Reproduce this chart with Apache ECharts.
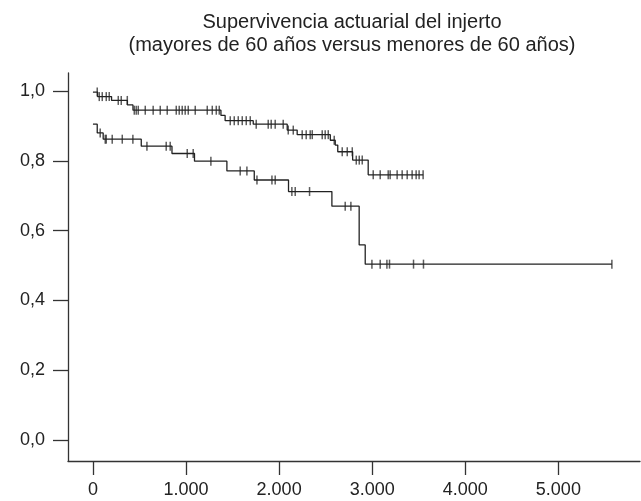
<!DOCTYPE html>
<html><head><meta charset="utf-8">
<script src="https://cdn.jsdelivr.net/npm/echarts@6/dist/echarts.min.js"></script>
<style>html,body{margin:0;padding:0;background:#fff}#c{width:641px;height:501px}</style>
</head><body><div id="c"></div>
<script>
// Upper curve: event times (days) and survival after each event
const upperTimes = [0, 50, 200, 370, 430, 1375, 1420, 1722, 2087, 2194, 2550, 2603, 2630, 2790, 2957, 3548];
const upperSurv  = [0.997, 0.984, 0.973, 0.960, 0.945, 0.930, 0.915, 0.905, 0.888, 0.875, 0.859, 0.845, 0.826, 0.802, 0.760, 0.760];
const upperCensor = [46, 68, 100, 143, 175, 272, 304, 369, 444, 465, 487, 562, 647, 723, 798, 895, 927, 959, 991, 1024, 1099, 1228, 1282, 1325, 1357, 1475, 1518, 1561, 1604, 1647, 1690, 1754, 1883, 1915, 1958, 2044, 2098, 2152, 2248, 2291, 2334, 2356, 2463, 2495, 2528, 2592, 2678, 2732, 2786, 2829, 2861, 2893, 3011, 3086, 3172, 3193, 3268, 3322, 3376, 3429, 3472, 3504, 3547];

// Lower curve
const lowerTimes = [0, 46, 110, 519, 849, 1091, 1439, 1733, 2101, 2567, 2860, 2925, 5575];
const lowerSurv  = [0.905, 0.880, 0.862, 0.842, 0.821, 0.799, 0.771, 0.745, 0.712, 0.670, 0.559, 0.504, 0.504];
const lowerCensor = [78, 132, 143, 207, 315, 429, 580, 787, 830, 1013, 1077, 1267, 1582, 1654, 1762, 1923, 1958, 2137, 2173, 2327, 2710, 2771, 2997, 3086, 3158, 3186, 3444, 3551, 5575];

const xTicks = [0, 1000, 2000, 3000, 4000, 5000];
const yTicks = [0, 0.2, 0.4, 0.6, 0.8, 1.0];
const titleText = 'Supervivencia actuarial del injerto\n(mayores de 60 años versus menores de 60 años)';

function survAt(times, surv, t) {
  let s = surv[0];
  for (let i = 0; i < times.length; i++) { if (times[i] <= t) s = surv[i]; }
  return s;
}
const upperLine = upperTimes.map((t, i) => [t, upperSurv[i]]);
const lowerLine = lowerTimes.map((t, i) => [t, lowerSurv[i]]);
const upperMarks = upperCensor.map(t => [t, survAt(upperTimes, upperSurv, t)]);
const lowerMarks = lowerCensor.map(t => [t, survAt(lowerTimes, lowerSurv, t)]);

const FONT = 'Liberation Sans, Arial, sans-serif';
const chart = echarts.init(document.getElementById('c'), null, {renderer: 'canvas'});
chart.setOption({
  animation: false,
  backgroundColor: '#fff',
  title: {
    text: titleText, left: 347, top: 6, textAlign: 'center',
    textStyle: {fontFamily: FONT, fontSize: 20, fontWeight: 'normal', color: '#222', lineHeight: 23}
  },
  grid: {left: 68, right: 1, top: 73, bottom: 40, containLabel: false},
  xAxis: {
    type: 'value', min: -268, max: 5877,
    splitLine: {show: false},
    axisLine: {show: true, onZero: false, lineStyle: {color: '#333', width: 1.3}},
    axisTick: {show: true, length: 14, customValues: xTicks, lineStyle: {color: '#333', width: 1.3}},
    axisLabel: {customValues: xTicks, margin: 20, fontFamily: FONT, fontSize: 18, color: '#222',
      formatter: v => v === 0 ? '0' : String(v).replace(/\B(?=(\d{3})+(?!\d))/g, '.')}
  },
  yAxis: {
    type: 'value', min: -0.06, max: 1.0516,
    splitLine: {show: false},
    axisLine: {show: true, onZero: false, lineStyle: {color: '#333', width: 1.3}},
    axisTick: {show: true, length: 15, customValues: yTicks, lineStyle: {color: '#333', width: 1.3}},
    axisLabel: {customValues: yTicks, margin: 23, fontFamily: FONT, fontSize: 18, color: '#222',
      formatter: v => v.toFixed(1).replace('.', ',')}
  },
  series: [
    {type: 'line', step: 'end', data: upperLine, showSymbol: false, lineStyle: {color: '#222', width: 1.3}},
    {type: 'line', step: 'end', data: lowerLine, showSymbol: false, lineStyle: {color: '#222', width: 1.3}},
    {type: 'scatter', data: upperMarks, symbol: 'rect', symbolSize: [1.5, 9], itemStyle: {color: '#333'}},
    {type: 'scatter', data: lowerMarks, symbol: 'rect', symbolSize: [1.5, 9], itemStyle: {color: '#333'}}
  ]
});
</script></body></html>
